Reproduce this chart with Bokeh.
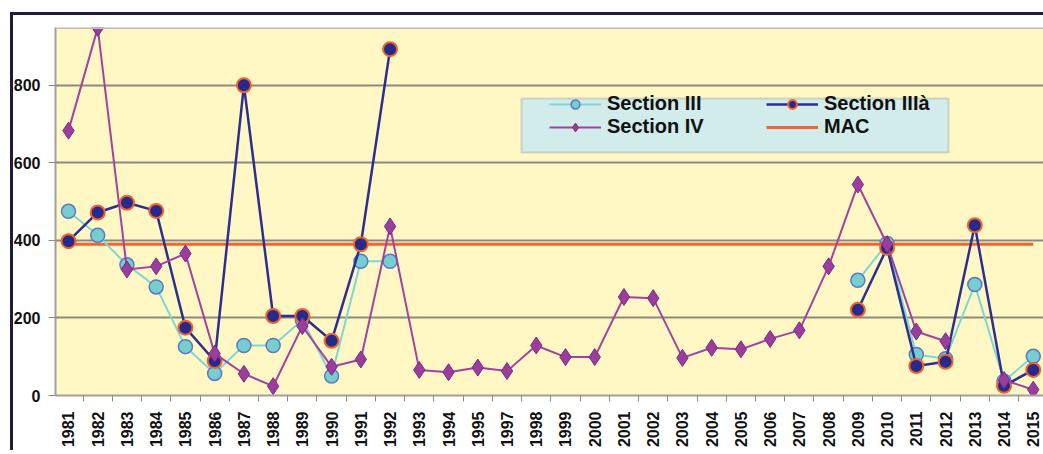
import math
import numpy as np
from bokeh.plotting import figure
from bokeh.models import Range1d, FixedTicker, Legend, LegendItem, BoxAnnotation, Span
from bokeh.embed import file_html
from bokeh.resources import INLINE

# Sampling years (1996 has no record)
years = ["1981", "1982", "1983", "1984", "1985", "1986", "1987", "1988", "1989",
         "1990", "1991", "1992", "1993", "1994", "1995", "1997", "1998", "1999",
         "2000", "2001", "2002", "2003", "2004", "2005", "2006", "2007", "2008",
         "2009", "2010", "2011", "2012", "2013", "2014", "2015"]

section_iii = [475, 413, 337, 280, 126, 57, 129, 129, 195, 50, 346, 346,
               None, None, None, None, None, None, None, None, None, None,
               None, None, None, None, None,
               297, 392, 106, 95, 286, 37, 101]

section_iiia = [398, 472, 497, 476, 175, 89, 800, 205, 205, 141, 390, 893,
                None, None, None, None, None, None, None, None, None, None,
                None, None, None, None, None,
                221, 381, 76, 87, 439, 25, 66]

section_iv = [683, 948, 325, 333, 366, 108, 56, 24, 179, 74, 93, 436,
              66, 60, 72, 63, 129, 99, 99, 254, 251, 97, 123, 119, 146, 168, 333,
              544, 390, 165, 140, None, 40, 15]

# Maximum allowable concentration, drawn across the whole period
mac_years = ["1981", "2015"]
mac_values = [390, 390]

y_ticks = [0, 200, 400, 600, 800]

pos = {y: i for i, y in enumerate(years)}
xs = np.arange(len(years), dtype=float)


def arr(vals):
    return np.array([np.nan if v is None else v for v in vals], dtype=float)


FONT = "Liberation Sans"
FRAME = "#1d1d3b"

p = figure(width=1043, height=450,
           x_range=Range1d(-0.444, 33.35), y_range=Range1d(0, 949),
           output_backend="svg", toolbar_location=None,
           min_border_left=55, min_border_top=27, min_border_bottom=47,
           min_border_right=0,
           background_fill_color="#FFF7C4", border_fill_color=None)

# white page with the dark chart frame along the top and left
p.styles = {
    "background-color": "#ffffff",
    "background-image": (
        f"linear-gradient({FRAME},{FRAME}), linear-gradient({FRAME},{FRAME})"
    ),
    "background-position": "10px 12px, 10px 12px",
    "background-size": "3px 2000px, 2000px 3px",
    "background-repeat": "no-repeat, no-repeat",
}

p.outline_line_color = None
# light edge along the top of the plotting area
p.add_layout(Span(location=p.y_range.end, dimension="width",
                  line_color="#bdbdbd", line_width=3))

# x axis: labels at year centres, small ticks between years
p.xaxis.ticker = FixedTicker(ticks=list(xs),
                             minor_ticks=[i - 0.5 for i in range(len(years) + 1)])
p.xaxis.major_label_overrides = {i: y for i, y in enumerate(years)}
p.xaxis.major_label_orientation = math.pi / 2
p.xaxis.major_tick_out = 0
p.xaxis.major_tick_in = 0
p.xaxis.minor_tick_out = 6
p.xaxis.minor_tick_in = 0
p.xaxis.minor_tick_line_color = "#8a8a8a"
p.xaxis.axis_line_color = "#a0a0a0"
p.xaxis.axis_line_width = 2
p.xaxis.major_label_standoff = 10
p.xaxis.major_label_text_font = FONT
p.xaxis.major_label_text_font_style = "bold"
p.xaxis.major_label_text_font_size = "16px"
p.xaxis.major_label_text_color = "#111111"

p.yaxis.ticker = FixedTicker(ticks=y_ticks)
p.yaxis.major_tick_out = 7
p.yaxis.major_tick_in = 0
p.yaxis.minor_tick_line_color = None
p.yaxis.major_tick_line_color = "#8a8a8a"
p.yaxis.axis_line_color = "#a0a0a0"
p.yaxis.axis_line_width = 2
p.yaxis.major_label_standoff = 8
p.yaxis.major_label_text_font = FONT
p.yaxis.major_label_text_font_style = "bold"
p.yaxis.major_label_text_font_size = "16px"
p.yaxis.major_label_text_color = "#111111"

p.xgrid.visible = False
p.ygrid.ticker = FixedTicker(ticks=y_ticks[1:])
p.ygrid.grid_line_color = "#8c8a80"
p.ygrid.grid_line_width = 2

# MAC reference line
lm = p.line([pos[y] for y in mac_years], mac_values, line_color="#F26430",
            line_width=3)

# Section III
l1 = p.line(xs, arr(section_iii), line_color="#7FD6D6", line_width=2)
s1 = p.scatter(xs, arr(section_iii), marker="circle", size=14,
               fill_color="#76CED0", line_color="#5D79C2", line_width=1.5)

# Section IIIa
l2 = p.line(xs, arr(section_iiia), line_color="#2B2F8F", line_width=2.5)
s2 = p.scatter(xs, arr(section_iiia), marker="circle", size=14,
               fill_color="#262A8C", line_color="#F0622E", line_width=2)

# Section IV
l3 = p.line(xs, arr(section_iv), line_color="#A0449F", line_width=2)
s3 = p.scatter(xs, arr(section_iv), marker="diamond", size=17,
               fill_color="#9B3D9F", line_color="#7A2A80", line_width=1)

# legend background panel
legend_box = BoxAnnotation(left=521, top=98, right=948, bottom=152,
                           left_units="canvas", right_units="canvas",
                           top_units="canvas", bottom_units="canvas",
                           fill_color="#D2EBEB", fill_alpha=1,
                           line_color="#8a8a8a", line_width=2)
p.add_layout(legend_box)


def make_legend(items, loc):
    leg = Legend(items=items, location=loc)
    leg.border_line_color = None
    leg.background_fill_alpha = 0
    leg.padding = 0
    leg.spacing = 0
    leg.margin = 0
    leg.glyph_width = 52
    leg.glyph_height = 22
    leg.label_height = 22
    leg.label_standoff = 6
    leg.label_text_font = FONT
    leg.label_text_font_style = "bold"
    leg.label_text_font_size = "20px"
    leg.label_text_color = "#111111"
    return leg


leg1 = make_legend([LegendItem(label="Section III", renderers=[l1, s1]),
                    LegendItem(label="Section IV", renderers=[l3, s3])],
                   (494, 257))
leg2 = make_legend([LegendItem(label="Section IIIà", renderers=[l2, s2]),
                    LegendItem(label="MAC", renderers=[lm])],
                   (711, 257))
p.add_layout(leg1)
p.add_layout(leg2)

open("out.html", "w").write(file_html(p, INLINE))
